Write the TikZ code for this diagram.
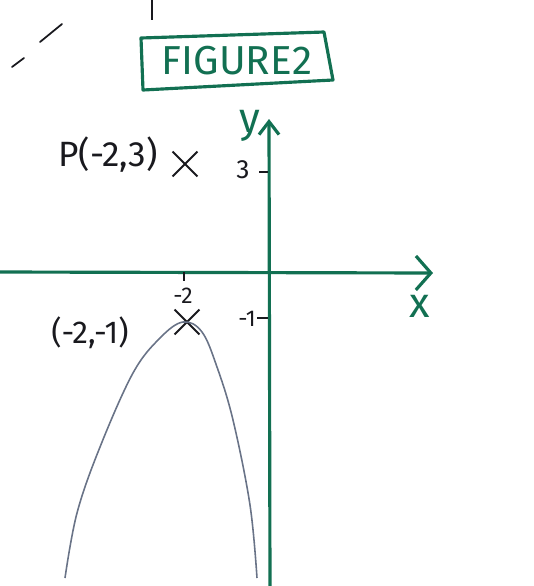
\documentclass[tikz,border=0pt]{standalone}
\usepackage{fontspec}
\setmainfont{Fira Sans}
\usepackage{tikz}
\usetikzlibrary{arrows.meta,shapes.misc}
\definecolor{pengreen}{RGB}{18,112,82}
\definecolor{pencil}{RGB}{105,115,135}
\definecolor{ink}{RGB}{25,25,30}
\tikzset{
    axisline/.style={pengreen, line width=1.8pt, line cap=round},
    tickmark/.style={ink, line width=0.9pt},
    hand/.style={ink, inner sep=0pt},
    greenlabel/.style={pengreen, inner sep=0pt, font=\fontsize{24}{24}\selectfont},
    crossmark/.style={cross out, draw=ink, line width=1.1pt, minimum size=#1, inner sep=0pt},
}
\begin{document}
\begin{tikzpicture}[x=0.02cm, y=-0.02cm]
            \useasboundingbox (0,0) rectangle (534,586);
            % stray strokes at the top
            \draw[ink, line width=1pt, line cap=round] (12,67) -- (24,58);
            \draw[ink, line width=1pt, line cap=round] (40,42) -- (62,24);
            \draw[ink, line width=1.6pt] (152,0) -- (152,20);
            % title box
            \node[pengreen, font=\fontsize{23}{23}\selectfont\mdseries] (title) at (237,61) {FIGURE2};
            \draw[pengreen, line width=1.8pt, line join=round] (141,38) -- (324,32) -- (333,80) -- (143,90) -- cycle;
            % axes
            \coordinate (xstart) at (0,272);
            \coordinate (xend) at (433,273);
            \coordinate (ystart) at (270,586);
            \coordinate (yend) at (269,119);
            \draw[axisline, -{Straight Barb[length=0.3cm, width=0.68cm, line width=1.8pt]}] (xstart) -- (xend);
            \draw[axisline, -{Straight Barb[length=0.26cm, width=0.4cm, line width=1.8pt]}] (ystart) -- (yend);
            \node[greenlabel] (xlabel) at (420,306) {x};
            \node[greenlabel] (ylabel) at (250,126) {y};
            % ticks
            \coordinate (tickA) at (184,272);
            \coordinate (tickB) at (184,281);
            \draw[tickmark] (tickA) -- (tickB);
            \coordinate (tickC) at (259,172);
            \coordinate (tickD) at (268,172);
            \draw[tickmark] (tickC) -- (tickD);
            \coordinate (tickE) at (257,318);
            \coordinate (tickF) at (268,318);
            \draw[tickmark] (tickE) -- (tickF);
            \node[hand, font=\fontsize{15}{15}\selectfont] (three) at (243,170) {3};
            \node[hand, font=\fontsize{13}{13}\selectfont] (mtwo) at (183,296) {-2};
            \node[hand, font=\fontsize{13}{13}\selectfont] (mone) at (247,319) {-1};
            % points
            \node[hand, font=\fontsize{20}{20}\selectfont] (plabel) at (108,155) {P(-2,3)};
            \node[crossmark=13pt] (pmark) at (185,164) {};
            \node[hand, font=\fontsize{18}{18}\selectfont] (vlabel) at (90,333) {(-2,-1)};
            \node[crossmark=13pt] (vmark) at (187,322) {};
            % parabola
            \draw[pencil, line width=0.9pt] plot[smooth, tension=0.6] coordinates {
                (65,578) (77,513) (100,447) (133,373) (160,338) (183,322)
                (202,332) (217,367) (233,420) (250,505) (257,578)};
        \end{tikzpicture}
\end{document}
